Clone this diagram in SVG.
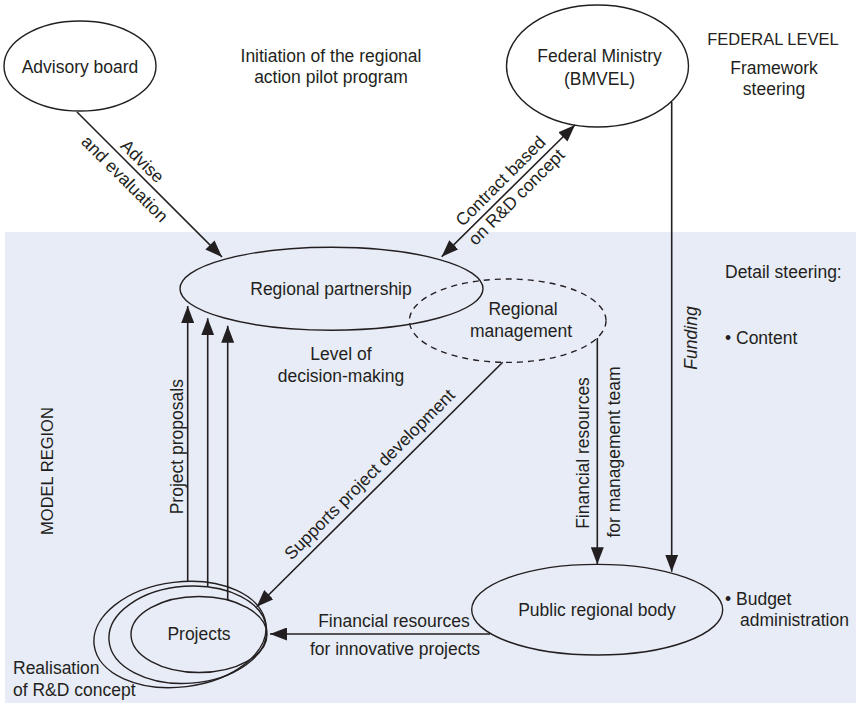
<svg xmlns="http://www.w3.org/2000/svg" width="856" height="705" viewBox="0 0 856 705">
<style>
text{font-family:"Liberation Sans",Arial,sans-serif;font-size:17.5px;fill:#231f20}
.c{text-anchor:middle}
.n{fill:none;stroke:#231f20;stroke-width:1.4}
.d{fill:none;stroke:#231f20;stroke-width:1.4;stroke-dasharray:6 5}
.l{fill:none;stroke:#231f20;stroke-width:1.6}
.a{marker-end:url(#ah)}
.aa{marker-start:url(#ah);marker-end:url(#ah)}
</style>
<defs>
<marker id="ah" markerWidth="17" markerHeight="13" refX="17" refY="6.5" orient="auto-start-reverse" markerUnits="userSpaceOnUse"><path d="M0,0 L17,6.5 L0,13 z" fill="#231f20"/></marker>
</defs>
<rect id="model-region-bg" x="5" y="232" width="851" height="471" fill="#e8ecf7"/>

<g id="advisory-board"><ellipse class="n" cx="80" cy="66" rx="76" ry="45"/><text class="c" x="80" y="72.5">Advisory board</text></g>
<g id="initiation-label"><text class="c" x="331" y="61.5">Initiation of the regional</text><text class="c" x="331" y="82.5">action pilot program</text></g>
<g id="federal-ministry"><ellipse class="n" cx="597.5" cy="66" rx="91" ry="61"/><text class="c" x="599.5" y="61.5">Federal Ministry</text><text class="c" x="599.5" y="85">(BMVEL)</text></g>
<g id="federal-level-label"><text class="c" x="773" y="45" style="font-size:16.5px">FEDERAL LEVEL</text><text class="c" x="774" y="74">Framework</text><text class="c" x="774" y="95">steering</text></g>
<g id="regional-partnership"><ellipse class="n" cx="331.5" cy="288.7" rx="151.5" ry="41.5"/><text class="c" x="331" y="295">Regional partnership</text></g>
<g id="regional-management"><ellipse class="d" cx="507.7" cy="320.7" rx="98.3" ry="41.7"/><text class="c" x="523" y="315">Regional</text><text class="c" x="521" y="336.5">management</text></g>
<g id="decision-label"><text class="c" x="341" y="360">Level of</text><text class="c" x="341" y="382">decision-making</text></g>
<g id="detail-steering-label"><text x="725" y="278">Detail steering:</text><text x="725" y="344">• Content</text></g>
<g id="budget-label"><text x="725" y="605">• Budget</text><text x="740" y="626">administration</text></g>
<g id="model-region-label"><text class="c" transform="translate(53,471) rotate(-90)" style="font-size:16.5px">MODEL REGION</text></g>
<g id="public-regional-body"><ellipse class="n" cx="597.2" cy="609.7" rx="125.5" ry="45.3"/><text class="c" x="597" y="615.5">Public regional body</text></g>
<g id="projects">
<ellipse class="n" cx="180" cy="634.5" rx="86.5" ry="52.5" transform="rotate(-7 180 634.5)"/>
<ellipse class="n" cx="187.8" cy="634.7" rx="79" ry="48.5" transform="rotate(-4 187.8 634.7)"/>
<ellipse class="n" cx="199" cy="634.5" rx="68" ry="38"/>
<text class="c" x="199" y="640">Projects</text>
</g>
<g id="realisation-label"><text x="13" y="674">Realisation</text><text x="13" y="696">of R&amp;D concept</text></g>

<g id="connectors">
<line class="l a" x1="77" y1="112" x2="222" y2="257"/>
<line class="l aa" x1="441.7" y1="256.7" x2="575" y2="125"/>
<line class="l a" x1="671.7" y1="102" x2="671.7" y2="571.7"/>
<line class="l a" x1="597.3" y1="338" x2="597.3" y2="564.3"/>
<line class="l a" x1="502.7" y1="362.3" x2="256.7" y2="606.7"/>
<line class="l a" x1="490" y1="634" x2="270" y2="634"/>
<line class="l a" x1="187.7" y1="581" x2="187.7" y2="306"/>
<line class="l a" x1="207.7" y1="586.5" x2="207.7" y2="318.3"/>
<line class="l a" x1="227.7" y1="599.5" x2="227.7" y2="325.7"/>
</g>

<g id="connector-labels">
<g transform="translate(134.3,169.3) rotate(45)"><text class="c" x="0" y="-5.5">Advise</text><text class="c" x="0" y="19.5">and evaluation</text></g>
<g transform="translate(508.9,189.5) rotate(-45)"><text class="c" x="0" y="-6">Contract based</text><text class="c" x="0" y="16.5">on R&amp;D concept</text></g>
<text class="c" transform="translate(697,338) rotate(-90)" style="font-style:italic">Funding</text>
<text class="c" transform="translate(589,453) rotate(-90)">Financial resources</text>
<text class="c" transform="translate(620,452) rotate(-90)">for management team</text>
<text class="c" transform="translate(380,485) rotate(-45)" x="0" y="-9">Supports project development</text>
<text class="c" transform="translate(182.5,446.7) rotate(-90)">Project proposals</text>
<text class="c" x="394" y="626.5">Financial resources</text>
<text class="c" x="395" y="655">for innovative projects</text>
</g>
</svg>
